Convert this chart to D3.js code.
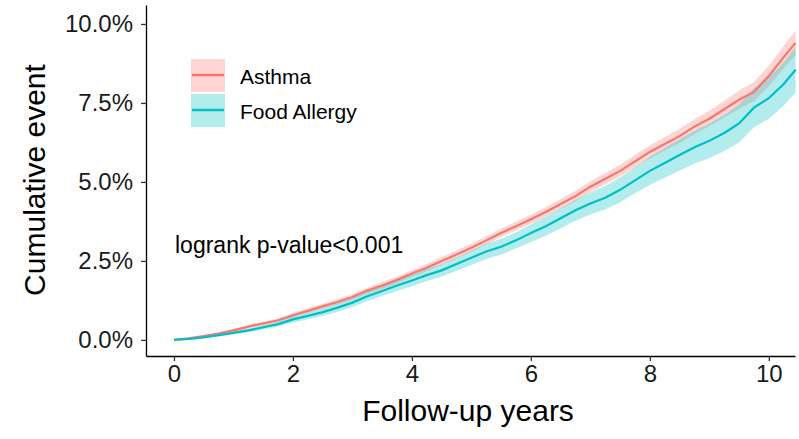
<!DOCTYPE html>
<html>
<head>
<meta charset="utf-8">
<script src="https://cdn.jsdelivr.net/npm/d3@7"></script>
<style>
  body { margin: 0; background: #fff; }
  svg text { font-family: Arial, "Liberation Sans", sans-serif; }
</style>
</head>
<body>
<div id="chart"></div>
<script>
var w = 799,
    h = 439;

// follow-up time grid (years)
var times = [0, 0.25, 0.5, 0.75, 1, 1.25, 1.5, 1.75, 2, 2.25, 2.5, 2.75, 3, 3.25, 3.5, 3.75, 4, 4.25, 4.5, 4.75,
  5, 5.25, 5.5, 5.75, 6, 6.25, 6.5, 6.75, 7, 7.25, 7.5, 7.75, 8, 8.25, 8.5, 8.75, 9, 9.25, 9.5, 9.75, 10, 10.25, 10.45];

// cumulative event (%) - Asthma
var asthmaEst = [0, 0.05, 0.12, 0.2, 0.3, 0.42, 0.52, 0.62, 0.78, 0.92, 1.06, 1.2, 1.36, 1.56, 1.72, 1.9, 2.1, 2.28, 2.5, 2.7,
  2.92, 3.15, 3.38, 3.6, 3.82, 4.05, 4.3, 4.55, 4.85, 5.1, 5.35, 5.65, 5.95, 6.2, 6.45, 6.75, 7.0, 7.3, 7.6, 7.85, 8.35, 8.95, 9.4];
var asthmaLo = [0, 0.03, 0.09, 0.16, 0.25, 0.37, 0.46, 0.56, 0.71, 0.85, 0.98, 1.12, 1.27, 1.46, 1.62, 1.79, 1.99, 2.17, 2.38, 2.58,
  2.8, 3.02, 3.25, 3.46, 3.68, 3.9, 4.15, 4.39, 4.68, 4.92, 5.17, 5.46, 5.75, 5.99, 6.23, 6.52, 6.76, 7.04, 7.32, 7.55, 8.03, 8.6, 9.02];
var asthmaHi = [0, 0.07, 0.15, 0.24, 0.35, 0.47, 0.58, 0.68, 0.85, 1.0, 1.14, 1.29, 1.45, 1.66, 1.83, 2.01, 2.21, 2.4, 2.62, 2.82,
  3.05, 3.28, 3.52, 3.74, 3.97, 4.2, 4.46, 4.72, 5.02, 5.28, 5.54, 5.85, 6.16, 6.42, 6.68, 6.99, 7.25, 7.57, 7.89, 8.16, 8.68, 9.31, 9.8];

// cumulative event (%) - Food Allergy
var foodEst = [0, 0.03, 0.08, 0.15, 0.22, 0.3, 0.4, 0.5, 0.65, 0.76, 0.88, 1.02, 1.18, 1.38, 1.55, 1.72, 1.88, 2.05, 2.2, 2.4,
  2.6, 2.8, 2.95, 3.15, 3.38, 3.6, 3.85, 4.1, 4.32, 4.5, 4.75, 5.05, 5.35, 5.6, 5.85, 6.1, 6.3, 6.55, 6.85, 7.35, 7.65, 8.1, 8.55];
var foodLo = [0, 0.01, 0.05, 0.11, 0.17, 0.24, 0.33, 0.42, 0.55, 0.65, 0.76, 0.89, 1.04, 1.23, 1.39, 1.55, 1.7, 1.86, 2.0, 2.19,
  2.37, 2.56, 2.7, 2.89, 3.1, 3.3, 3.53, 3.77, 3.97, 4.13, 4.36, 4.64, 4.9, 5.13, 5.35, 5.58, 5.75, 5.98, 6.25, 6.73, 7.0, 7.42, 7.83];
var foodHi = [0, 0.05, 0.11, 0.19, 0.27, 0.36, 0.47, 0.58, 0.75, 0.87, 1.0, 1.15, 1.32, 1.53, 1.71, 1.89, 2.06, 2.24, 2.4, 2.61,
  2.83, 3.04, 3.2, 3.41, 3.66, 3.9, 4.17, 4.43, 4.67, 4.87, 5.14, 5.46, 5.8, 6.07, 6.35, 6.62, 6.85, 7.12, 7.45, 7.97, 8.3, 8.78, 9.27];

var groups = ["Asthma", "Food Allergy"];
var colors = ["#F8766D", "#00BFC4"];
var xTicks = [0, 2, 4, 6, 8, 10];
var yTicks = [0, 2.5, 5, 7.5, 10];

var series = [
  { name: groups[0], color: colors[0], est: asthmaEst, lo: asthmaLo, hi: asthmaHi },
  { name: groups[1], color: colors[1], est: foodEst, lo: foodLo, hi: foodHi }
];

var x = d3.scaleLinear().domain([-0.47, 10.44]).range([146, 795]);
var y = d3.scaleLinear().domain([-0.51, 10.6]).range([356, 5]);

var svg = d3.select("#chart").append("svg")
    .attr("width", w)
    .attr("height", h);

// confidence ribbons
var area = d3.area()
    .x(function(d, i) { return x(times[i]); })
    .y0(function(d) { return y(d[0]); })
    .y1(function(d) { return y(d[1]); });

series.forEach(function(s) {
  var pts = s.lo.map(function(v, i) { return [v, s.hi[i]]; });
  svg.append("path")
      .attr("d", area(pts))
      .attr("fill", s.color)
      .attr("fill-opacity", 0.3);
});

var line = d3.line()
    .x(function(d, i) { return x(times[i]); })
    .y(function(d) { return y(d); });

series.forEach(function(s) {
  svg.append("path")
      .attr("d", line(s.est))
      .attr("fill", "none")
      .attr("stroke", s.color)
      .attr("stroke-width", 2.2);
});

// axes
var xAxis = svg.append("g")
    .attr("transform", "translate(0,356)")
    .call(d3.axisBottom(x).tickValues(xTicks).tickSize(5).tickPadding(4).tickSizeOuter(0));

var yAxis = svg.append("g")
    .attr("transform", "translate(146,0)")
    .call(d3.axisLeft(y).tickValues(yTicks).tickSize(5).tickPadding(8).tickSizeOuter(0)
      .tickFormat(function(d) { return d.toFixed(1) + "%"; }));

[xAxis, yAxis].forEach(function(a) {
  a.select(".domain").attr("stroke", "#000").attr("stroke-width", 1.3);
  a.selectAll(".tick line").attr("stroke", "#333").attr("stroke-width", 1.3);
  a.selectAll(".tick text")
      .attr("fill", "#1a1a1a")
      .style("font-size", "24px")
      .style("font-family", "Arial, 'Liberation Sans', sans-serif");
});

// axis titles
svg.append("text")
    .attr("x", 468)
    .attr("y", 421)
    .attr("text-anchor", "middle")
    .style("font-size", "30px")
    .attr("fill", "#000")
    .text("Follow-up years");

svg.append("text")
    .attr("transform", "translate(45,180) rotate(-90)")
    .attr("text-anchor", "middle")
    .style("font-size", "30px")
    .attr("fill", "#000")
    .text("Cumulative event");

// legend
var legend = svg.append("g");
series.forEach(function(s, i) {
  var top = 59 + i * 35;
  legend.append("rect")
      .attr("x", 191).attr("y", top)
      .attr("width", 34).attr("height", 33)
      .attr("fill", s.color)
      .attr("fill-opacity", 0.3);
  legend.append("line")
      .attr("x1", 192).attr("x2", 224)
      .attr("y1", top + 16).attr("y2", top + 16)
      .attr("stroke", s.color)
      .attr("stroke-width", 2.5);
  legend.append("text")
      .attr("x", 240)
      .attr("y", top + 25)
      .style("font-size", "21px")
      .attr("fill", "#000")
      .text(s.name);
});

svg.append("text")
    .attr("x", 175)
    .attr("y", 253)
    .style("font-size", "23px")
    .attr("fill", "#000")
    .text("logrank p-value<0.001");
</script>
</body>
</html>
